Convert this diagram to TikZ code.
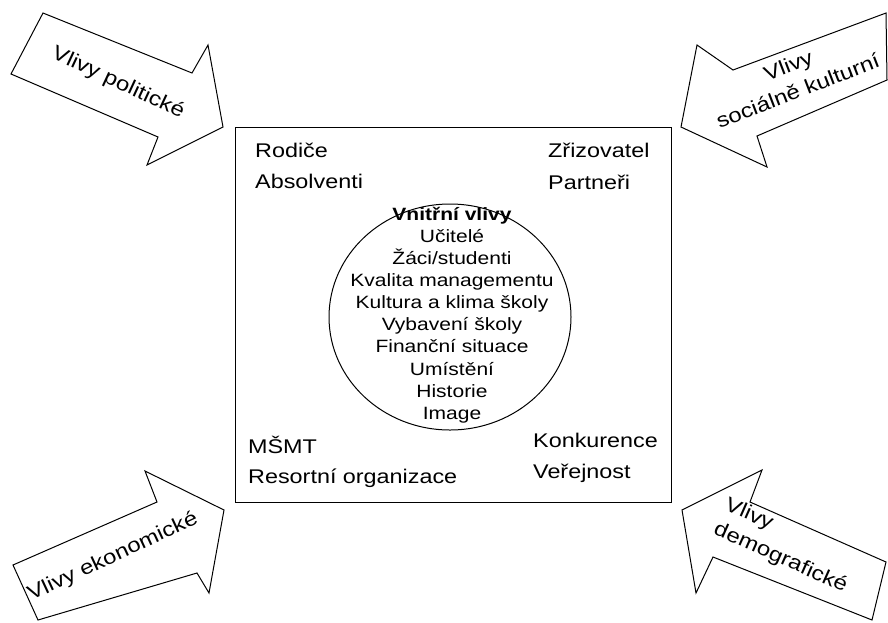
\documentclass[tikz,border=0pt]{standalone}
\usepackage{fontspec}
\setmainfont[FakeStretch=1.18]{Liberation Sans}
\usetikzlibrary{shapes.geometric}
\tikzset{
    vliv/.style = {draw=black, line width=1pt, fill=white},
    vlivtext/.style = {align=center, inner sep=0pt, font=\fontsize{20.3}{27}\selectfont},
    skola/.style = {rectangle, draw=black, line width=1pt, minimum width=436pt, minimum height=375pt},
    kruh/.style = {ellipse, draw=black, line width=1pt, minimum width=242pt, minimum height=226pt},
    faktor/.style = {anchor=base west, inner sep=0pt, font=\fontsize{19.8}{24}\selectfont},
    uvnitr/.style = {align=center, inner sep=0pt, font=\fontsize{17.8}{22.1}\selectfont}
}
\begin{document}
\begin{tikzpicture}[x=1pt,y=-1pt]
  \useasboundingbox (0,0) rectangle (888,622);

  % the school
  \node[skola] at (453,314.5) (skola) {};
  \node[kruh] at (450,317) (kruh) {};
  \node[uvnitr] at (452,315) (vnitrni) {\textbf{Vnitřní vlivy}\\Učitelé\\Žáci/studenti\\Kvalita managementu\\Kultura a klima školy\\Vybavení školy\\Finanční situace\\Umístění\\Historie\\Image};

  \node[faktor] at (255,157) (rodice) {Rodiče};
  \node[faktor] at (255,188) (absolventi) {Absolventi};
  \node[faktor] at (548,157) (zrizovatel) {Zřizovatel};
  \node[faktor] at (548,189) (partneri) {Partneři};
  \node[faktor] at (248,453) (msmt) {MŠMT};
  \node[faktor] at (248,483) (resortni) {Resortní organizace};
  \node[faktor] at (533,447) (konkurence) {Konkurence};
  \node[faktor] at (533,478) (verejnost) {Veřejnost};

  % outer influences
  \draw[vliv] (43,13) -- (192,73) -- (208,45) -- (223,127) -- (147,165) -- (158,137) -- (11,74) -- cycle;
  \node[vlivtext, rotate=-25] at (118,83) (politicke) {Vlivy politické};

  \draw[vliv] (886,13) -- (733,70) -- (697,45) -- (681,127) -- (767,167) -- (757,136) -- (887,80) -- cycle;
  \node[vlivtext, rotate=21] at (793,78) (socialni) {Vlivy\\sociálně kulturní};

  \draw[vliv] (13,565) -- (157,502) -- (145,471) -- (224,510) -- (209,593) -- (197,573) -- (38,620) -- cycle;
  \node[vlivtext, rotate=25] at (113,557) (ekonomicke) {Vlivy ekonomické};

  \draw[vliv] (886,562) -- (750,502) -- (762,470) -- (682,510) -- (696,593) -- (713,557) -- (872,620) -- cycle;
  \node[vlivtext, align=left, rotate=-24] at (786,546) (demograficke) {Vlivy\\demografické};

\end{tikzpicture}
\end{document}
